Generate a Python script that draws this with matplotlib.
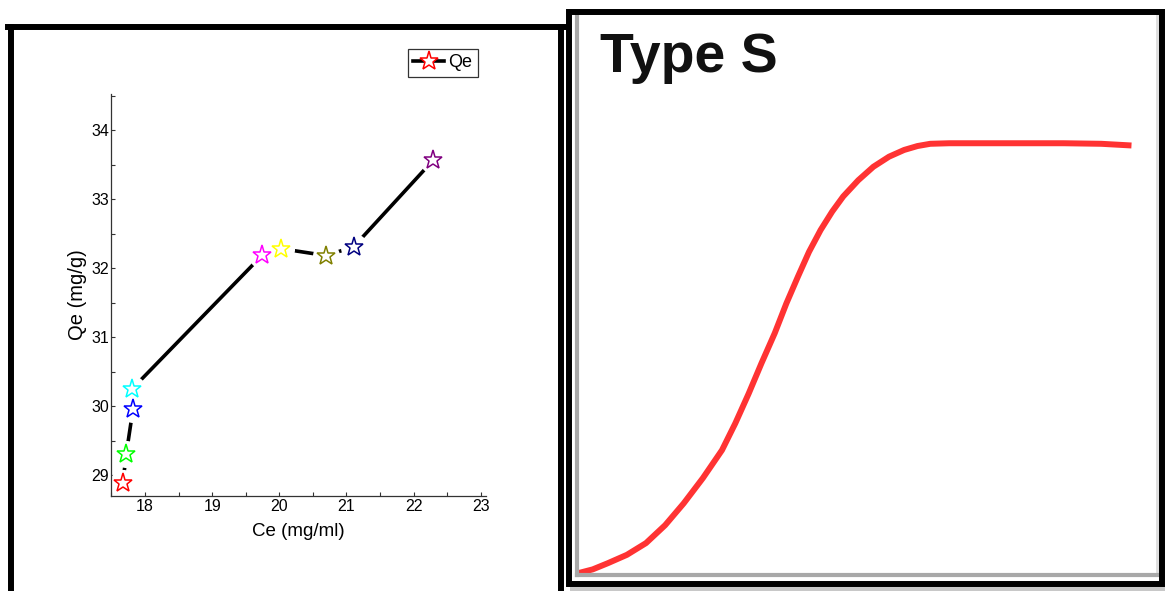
import matplotlib
matplotlib.use('Agg')
import matplotlib.pyplot as plt
from matplotlib.lines import Line2D
from matplotlib.patches import Rectangle
from matplotlib.ticker import MultipleLocator

# Left panel data: equilibrium concentration vs adsorbed amount
ce = [17.67, 17.72, 17.82, 17.81, 19.75, 20.03, 20.70, 21.11, 22.29]
qe = [28.88, 29.30, 29.95, 30.25, 32.19, 32.28, 32.18, 32.31, 33.56]
star_colors = ['#ff0000', '#00ff00', '#0000ff', '#00ffff', '#ff00ff',
               '#ffff00', '#808000', '#000080', '#800080']

# Right panel: "Type S" isotherm shape (arbitrary units, 0-100)
s_x = [0.1, 2.7, 5.3, 8.6, 11.9, 15.2, 18.4, 21.7, 25.0, 27.3, 29.6,
       31.8, 34.1, 36.1, 38.1, 40.0, 42.0, 44.0, 45.9, 48.5, 51.1, 53.8,
       56.4, 58.7, 60.9, 64.2, 70.8, 77.3, 83.9, 90.4, 95.6]
s_y = [0.3, 1.0, 2.1, 3.6, 5.7, 8.9, 12.8, 17.3, 22.3, 27.1, 32.4,
       37.8, 43.2, 48.5, 53.3, 57.7, 61.6, 64.9, 67.6, 70.5, 72.9, 74.7,
       75.9, 76.6, 77.0, 77.1, 77.1, 77.1, 77.1, 77.0, 76.7]

W, H = 1165, 591
fig = plt.figure(figsize=(W / 100, H / 100), dpi=100)
fig.patch.set_facecolor('white')

regular = ['Liberation Sans', 'DejaVu Sans']


def fx(px):
    return px / W


def fy(py):
    return 1 - py / H


# ---- left panel ----
ax = fig.add_axes([fx(110.7), fy(496), fx(486 - 110.7), (496 - 94) / H])
ax.plot(ce, qe, color='black', lw=2.6, zorder=1, solid_capstyle='butt')
# white halo so the line stops short of each star
ax.scatter(ce, qe, s=380, c='white', marker='o', linewidths=0, zorder=2)
for x, y, c in zip(ce, qe, star_colors):
    ax.plot(x, y, marker='*', ms=14, mfc='white', mec=c, mew=1.1, zorder=3)

ax.set_xlim(17.489, 23.079)
ax.set_ylim(28.696, 34.522)
ax.xaxis.set_major_locator(MultipleLocator(1))
ax.xaxis.set_minor_locator(MultipleLocator(0.5))
ax.yaxis.set_major_locator(MultipleLocator(1))
ax.yaxis.set_minor_locator(MultipleLocator(0.5))
ax.tick_params(which='both', direction='in', length=3, width=0.8, color='#333333')
ax.tick_params(axis='x', pad=2)
ax.tick_params(axis='y', pad=1)
for lab in ax.get_xticklabels() + ax.get_yticklabels():
    lab.set_family(regular)
    lab.set_fontsize(11.5)
for side in ['top', 'right']:
    ax.spines[side].set_visible(False)
for side in ['left', 'bottom']:
    ax.spines[side].set_color('#333333')
    ax.spines[side].set_linewidth(0.9)
ax.set_xlabel('Ce (mg/ml)', family=regular, fontsize=13.5, labelpad=7)
ax.set_ylabel('Qe (mg/g)', family=regular, fontsize=14.5, labelpad=3)

handle = Line2D([], [], color='black', lw=2.6, marker='*', ms=14,
                mfc='white', mec='red', mew=1.1)
leg = ax.legend([handle], ['Qe'], loc='upper right',
                bbox_to_anchor=(fx(478), fy(49)), bbox_transform=fig.transFigure,
                prop={'family': regular, 'size': 13}, fancybox=False,
                handlelength=1.7, handletextpad=0.25, borderpad=0.3,
                borderaxespad=0)
leg.get_frame().set_edgecolor('black')
leg.get_frame().set_linewidth(0.9)

# left panel frame
bw = 4.3
fig.add_artist(Line2D([fx(11), fx(11)], [fy(27), fy(600)], color='black', lw=bw,
                      transform=fig.transFigure))
fig.add_artist(Line2D([fx(8), fx(564)], [fy(27), fy(27)], color='black', lw=bw,
                      transform=fig.transFigure))
fig.add_artist(Line2D([fx(561), fx(561)], [fy(27), fy(600)], color='black', lw=bw,
                      transform=fig.transFigure))

# ---- right panel ----
ax2 = fig.add_axes([fx(577), fy(575), fx(1157 - 577), (575 - 15) / H])
ax2.plot(s_x, s_y, color='#ff3333', lw=4.3, solid_capstyle='butt',
         solid_joinstyle='round', clip_on=False)
ax2.set_xlim(0, 100)
ax2.set_ylim(0, 100)
ax2.set_xticks([])
ax2.set_yticks([])
ax2.spines['top'].set_visible(False)
ax2.spines['left'].set_color('#a8a8a8')
ax2.spines['left'].set_linewidth(3)
ax2.spines['bottom'].set_color('#a8a8a8')
ax2.spines['bottom'].set_linewidth(3)
ax2.spines['right'].set_color('#dddddd')
ax2.spines['right'].set_linewidth(2)

fig.text(fx(600), fy(72), 'Type S', family=regular, fontsize=40,
         fontweight='bold', color='#111111', va='baseline', ha='left')

fig.add_artist(Rectangle((fx(569), fy(583.5)), fx(1162 - 569), (583.5 - 12) / H,
                         fill=False, edgecolor='black', lw=bw,
                         transform=fig.transFigure))
fig.add_artist(Rectangle((fx(570), fy(591)), fx(595), 4 / H, facecolor='#c8c8c8',
                         edgecolor='none', transform=fig.transFigure))

fig.savefig('out.png', dpi=100)
